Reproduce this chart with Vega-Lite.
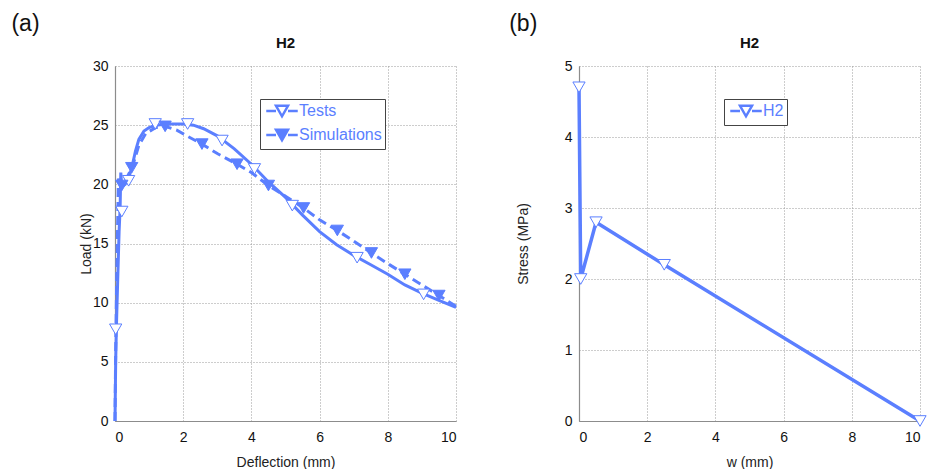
{
  "$schema": "https://vega.github.io/schema/vega-lite/v6.json",
  "background": "white",
  "padding": {"left": 11, "top": 13, "right": 0, "bottom": 0},
  "spacing": 47,
  "config": {
    "font": "Liberation Sans",
    "view": {"stroke": null},
    "axis": {
      "domainColor": "#8c8c8c",
      "domainWidth": 1.2,
      "ticks": false,
      "gridColor": "#9a9a9a",
      "gridDash": [1, 2],
      "gridWidth": 1,
      "labelColor": "#111",
      "labelFontSize": 14,
      "labelPadding": 7,
      "titleFontSize": 14,
      "titleFontWeight": "normal",
      "titleColor": "#222"
    },
    "axisX": {"labelPadding": 9, "titlePadding": 11},
    "legend": {
      "orient": "none",
      "strokeColor": "#444",
      "fillColor": "white",
      "padding": 3,
      "labelColor": "#5b7fff",
      "labelFontSize": 16,
      "labelOffset": 8,
      "symbolOffset": 10,
      "symbolType": "M-2.1,0H-0.8M0.8,0H2.1M-0.8,-0.7H0.8L0,0.7Z",
      "symbolSize": 225,
      "symbolStrokeColor": "#5b7fff",
      "symbolStrokeWidth": 2.5,
      "rowPadding": 2,
      "title": null
    },
    "title": {"fontSize": 15, "fontWeight": "bold", "color": "#111", "offset": 8}
  },
  "datasets": {
    "tests": [
      {"i": 1, "d": 0, "load": 0}, {"i": 2, "d": 0.02, "load": 5}, {"i": 3, "d": 0.04, "load": 7.8},
      {"i": 4, "d": 0.08, "load": 12}, {"i": 5, "d": 0.12, "load": 16}, {"i": 6, "d": 0.15, "load": 18},
      {"i": 7, "d": 0.17, "load": 21}, {"i": 8, "d": 0.2, "load": 19.8}, {"i": 9, "d": 0.3, "load": 20},
      {"i": 10, "d": 0.4, "load": 20.5}, {"i": 11, "d": 0.5, "load": 21.5}, {"i": 12, "d": 0.6, "load": 22.8},
      {"i": 13, "d": 0.7, "load": 23.8}, {"i": 14, "d": 0.85, "load": 24.5}, {"i": 15, "d": 1.0, "load": 24.8},
      {"i": 16, "d": 1.2, "load": 25.0}, {"i": 17, "d": 1.5, "load": 25.1}, {"i": 18, "d": 2.0, "load": 25.1},
      {"i": 19, "d": 2.3, "load": 25.0}, {"i": 20, "d": 2.6, "load": 24.7}, {"i": 21, "d": 3.0, "load": 24.1},
      {"i": 22, "d": 3.5, "load": 23.0}, {"i": 23, "d": 4.0, "load": 21.7}, {"i": 24, "d": 4.5, "load": 20.2},
      {"i": 25, "d": 5.0, "load": 18.9}, {"i": 26, "d": 5.5, "load": 17.4}, {"i": 27, "d": 6.0, "load": 16.0},
      {"i": 28, "d": 6.5, "load": 14.9}, {"i": 29, "d": 7.0, "load": 14.0}, {"i": 30, "d": 7.5, "load": 13.2},
      {"i": 31, "d": 8.0, "load": 12.4}, {"i": 32, "d": 8.5, "load": 11.5}, {"i": 33, "d": 9.0, "load": 10.8},
      {"i": 34, "d": 9.5, "load": 10.2}, {"i": 35, "d": 10, "load": 9.6}
    ],
    "testsMarkers": [
      {"d": 0.02, "load": 7.75, "series": "Tests"}, {"d": 0.2, "load": 17.7, "series": "Tests"},
      {"d": 0.4, "load": 20.3, "series": "Tests"}, {"d": 1.18, "load": 25.1, "series": "Tests"},
      {"d": 2.13, "load": 25.1, "series": "Tests"}, {"d": 3.14, "load": 23.7, "series": "Tests"},
      {"d": 4.09, "load": 21.3, "series": "Tests"}, {"d": 5.2, "load": 18.2, "series": "Tests"},
      {"d": 7.1, "load": 13.8, "series": "Tests"}, {"d": 9.05, "load": 10.7, "series": "Tests"}
    ],
    "sims": [
      {"i": 1, "d": 0, "load": 0}, {"i": 2, "d": 0.02, "load": 6}, {"i": 3, "d": 0.05, "load": 12},
      {"i": 4, "d": 0.08, "load": 17}, {"i": 5, "d": 0.1, "load": 20.5}, {"i": 6, "d": 0.15, "load": 19.5},
      {"i": 7, "d": 0.2, "load": 19.9}, {"i": 8, "d": 0.3, "load": 20.3}, {"i": 9, "d": 0.5, "load": 21.4},
      {"i": 10, "d": 0.7, "load": 23.3}, {"i": 11, "d": 0.9, "load": 24.3}, {"i": 12, "d": 1.2, "load": 24.8},
      {"i": 13, "d": 1.47, "load": 24.9}, {"i": 14, "d": 1.8, "load": 24.6}, {"i": 15, "d": 2.1, "load": 24.1},
      {"i": 16, "d": 2.55, "load": 23.4}, {"i": 17, "d": 3.0, "load": 22.6}, {"i": 18, "d": 3.58, "load": 21.7},
      {"i": 19, "d": 4.0, "load": 21.0}, {"i": 20, "d": 4.5, "load": 19.9}, {"i": 21, "d": 5.0, "load": 19.0},
      {"i": 22, "d": 5.53, "load": 18.0}, {"i": 23, "d": 6.0, "load": 17.0}, {"i": 24, "d": 6.52, "load": 16.1},
      {"i": 25, "d": 7.0, "load": 15.2}, {"i": 26, "d": 7.52, "load": 14.2}, {"i": 27, "d": 8.0, "load": 13.3},
      {"i": 28, "d": 8.5, "load": 12.4}, {"i": 29, "d": 9.0, "load": 11.5}, {"i": 30, "d": 9.5, "load": 10.6},
      {"i": 31, "d": 10, "load": 9.7}
    ],
    "simsMarkers": [
      {"d": 0.2, "load": 19.9, "series": "Simulations"}, {"d": 0.49, "load": 21.4, "series": "Simulations"},
      {"d": 1.47, "load": 24.9, "series": "Simulations"}, {"d": 2.55, "load": 23.4, "series": "Simulations"},
      {"d": 3.58, "load": 21.7, "series": "Simulations"}, {"d": 4.5, "load": 19.9, "series": "Simulations"},
      {"d": 5.53, "load": 18.0, "series": "Simulations"}, {"d": 6.52, "load": 16.1, "series": "Simulations"},
      {"d": 7.52, "load": 14.2, "series": "Simulations"}, {"d": 8.5, "load": 12.4, "series": "Simulations"},
      {"d": 9.5, "load": 10.6, "series": "Simulations"}
    ],
    "h2": [
      {"i": 1, "w": 0, "stress": 4.7, "series": "H2"}, {"i": 2, "w": 0.05, "stress": 2.0, "series": "H2"},
      {"i": 3, "w": 0.5, "stress": 2.8, "series": "H2"}, {"i": 4, "w": 2.5, "stress": 2.2, "series": "H2"},
      {"i": 5, "w": 10, "stress": 0, "series": "H2"}
    ]
  },
  "hconcat": [
    {
      "title": {"text": "(a)", "anchor": "start", "fontSize": 23, "fontWeight": "normal", "dx": -68, "offset": 0},
      "hconcat": [
        {
          "title": "H2",
          "width": 341,
          "height": 355,
          "layer": [
            {
              "data": {"name": "tests"},
              "mark": {"type": "line", "color": "#5b7fff", "strokeWidth": 3},
              "encoding": {
                "x": {"field": "d", "type": "quantitative", "scale": {"domain": [0, 10], "nice": false}, "axis": {"values": [0, 2, 4, 6, 8, 10], "title": "Deflection (mm)"}},
                "y": {"field": "load", "type": "quantitative", "scale": {"domain": [0, 30], "nice": false}, "axis": {"values": [0, 5, 10, 15, 20, 25, 30], "title": "Load (kN)", "titlePadding": -1}},
                "order": {"field": "i"}
              }
            },
            {
              "data": {"name": "sims"},
              "mark": {"type": "line", "color": "#5b7fff", "strokeWidth": 3, "strokeDash": [9, 5]},
              "encoding": {
                "x": {"field": "d", "type": "quantitative"},
                "y": {"field": "load", "type": "quantitative"},
                "order": {"field": "i"}
              }
            },
            {
              "data": {"name": "testsMarkers"},
              "mark": {"type": "point", "shape": "triangle-down", "filled": true, "fill": "white", "stroke": "#5b7fff", "strokeWidth": 1, "size": 150, "opacity": 1},
              "encoding": {
                "x": {"field": "d", "type": "quantitative"},
                "y": {"field": "load", "type": "quantitative"}
              }
            },
            {
              "data": {"name": "simsMarkers"},
              "mark": {"type": "point", "shape": "triangle-down", "filled": true, "fill": "#5b7fff", "stroke": "#5b7fff", "strokeWidth": 1, "size": 150, "opacity": 1},
              "encoding": {
                "x": {"field": "d", "type": "quantitative"},
                "y": {"field": "load", "type": "quantitative"},
                "fill": {
                  "field": "series", "type": "nominal",
                  "scale": {"domain": ["Tests", "Simulations"], "range": ["white", "#5b7fff"]},
                  "legend": {"legendX": 145, "legendY": 33}
                }
              }
            }
          ]
        }
      ]
    },
    {
      "title": {"text": "(b)", "anchor": "start", "fontSize": 23, "fontWeight": "normal", "dx": -7, "offset": 0},
      "hconcat": [
        {
          "title": "H2",
          "width": 341,
          "height": 355,
          "data": {"name": "h2"},
          "layer": [
            {
              "mark": {"type": "line", "color": "#5b7fff", "strokeWidth": 3.5},
              "encoding": {
                "x": {"field": "w", "type": "quantitative", "scale": {"domain": [0, 10], "nice": false}, "axis": {"values": [0, 2, 4, 6, 8, 10], "title": "w (mm)"}},
                "y": {"field": "stress", "type": "quantitative", "scale": {"domain": [0, 5], "nice": false}, "axis": {"values": [0, 1, 2, 3, 4, 5], "format": "d", "title": "Stress (MPa)", "titlePadding": 34}},
                "order": {"field": "i"}
              }
            },
            {
              "mark": {"type": "point", "shape": "triangle-down", "filled": true, "stroke": "#5b7fff", "strokeWidth": 1, "size": 150, "opacity": 1},
              "encoding": {
                "x": {"field": "w", "type": "quantitative"},
                "y": {"field": "stress", "type": "quantitative"},
                "fill": {
                  "field": "series", "type": "nominal",
                  "scale": {"domain": ["H2"], "range": ["white"]},
                  "legend": {"legendX": 145, "legendY": 33}
                }
              }
            }
          ]
        }
      ]
    }
  ],
  "resolve": {"scale": {"fill": "independent", "x": "independent", "y": "independent"}, "legend": {"fill": "independent"}}
}
